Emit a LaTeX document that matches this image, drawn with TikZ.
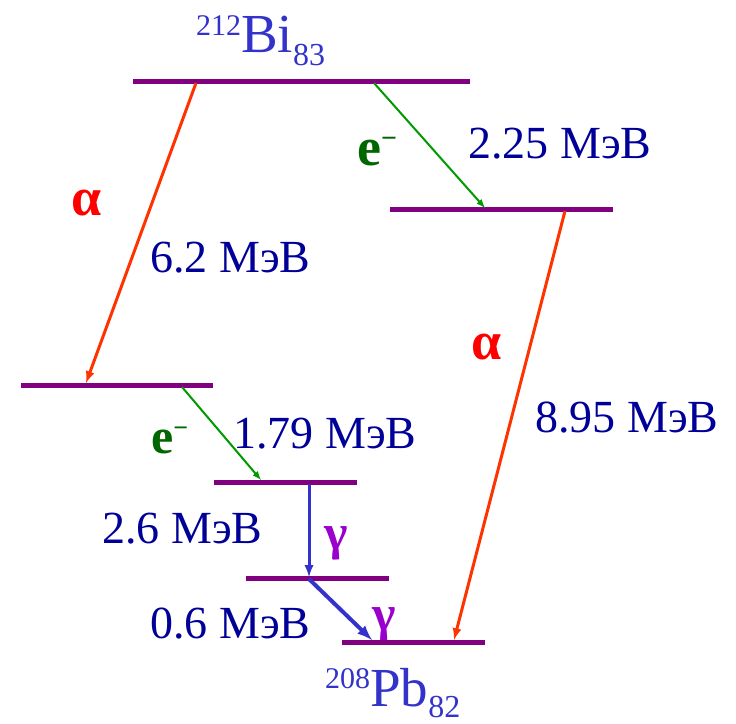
\documentclass[tikz,border=0pt]{standalone}
\usepackage{fontspec}
\setmainfont{Liberation Serif}
\definecolor{lvl}{HTML}{800080}
\definecolor{alphaar}{HTML}{FF3300}
\definecolor{alphatx}{HTML}{FF0000}
\definecolor{ear}{HTML}{009900}
\definecolor{etx}{HTML}{006600}
\definecolor{gar}{HTML}{3333CC}
\definecolor{gtx}{HTML}{9900CC}
\definecolor{mev}{HTML}{000099}
\definecolor{nuc}{HTML}{3333CC}
\newcommand\bigtx{\fontsize{46}{46}\selectfont}
\begin{document}
\begin{tikzpicture}[x=1pt,y=-1pt,
  lvline/.style={line width=5pt,lvl},
  alphaarrow/.style={line width=3pt,alphaar,-latex},
  earrow/.style={line width=2pt,ear,-latex},
  garrow/.style={line width=3pt,gar,-latex},
  mevlabel/.style={inner sep=0pt,anchor=base west,text=mev},
  nuclabel/.style={inner sep=0pt,anchor=base west,text=nuc},
  alphalabel/.style={inner sep=0pt,anchor=base,text=alphatx},
  elabel/.style={inner sep=0pt,anchor=base west,text=etx},
  glabel/.style={inner sep=0pt,anchor=base west,text=gtx}]
\useasboundingbox (0,0) rectangle (736,723);
% energies
\node[mevlabel] (t225) at (468,158) {\bigtx 2.25 МэВ};
\node[mevlabel] (t62) at (150,272) {\bigtx 6.2 МэВ};
\node[mevlabel] (t895) at (535,432) {\bigtx 8.95 МэВ};
\node[mevlabel] (t179) at (233,448) {\bigtx 1.79 МэВ};
\node[mevlabel] (t26) at (102,543) {\bigtx 2.6 МэВ};
\node[mevlabel] (t06) at (150,638) {\bigtx 0.6 МэВ};
% nuclide labels
\node[nuclabel] (bi) at (196,52) {\bigtx\raisebox{17pt}{\scalebox{0.652}{212}}\scalebox{1.196}{Bi}\raisebox{-13pt}{\scalebox{0.696}{83}}};
\node[nuclabel] (pb) at (325,706) {\bigtx\raisebox{18pt}{\scalebox{0.652}{208}}\scalebox{1.196}{Pb}\raisebox{-11pt}{\scalebox{0.696}{82}}};
% particle labels
\node[alphalabel] (al1) at (87,215) {\bigtx\bfseries\scalebox{1.174}{α}};
\node[alphalabel] (al2) at (487,359) {\bigtx\bfseries\scalebox{1.174}{α}};
\node[elabel] (el1) at (357,165) {\bigtx\bfseries\scalebox{1.174}{e}\raisebox{18pt}{\scalebox{0.609}{−}}};
\node[elabel] (el2) at (151,453) {\bigtx\bfseries\scalebox{1.087}{e}\raisebox{17pt}{\scalebox{0.565}{−}}};
\node[glabel] (ga1) at (324,549) {\bigtx\bfseries\scalebox{1.087}{γ}};
\node[glabel] (ga2) at (372,630) {\bigtx\bfseries\scalebox{1.087}{γ}};
% levels
\coordinate (bi1) at (133,81);  \coordinate (bi2) at (470,81);
\coordinate (r1) at (390,209);  \coordinate (r2) at (613,209);
\coordinate (l1) at (21,385);   \coordinate (l2) at (213,385);
\coordinate (m1) at (214,482);  \coordinate (m2) at (357,482);
\coordinate (lo1) at (246,578); \coordinate (lo2) at (389,578);
\coordinate (pb1) at (342,642); \coordinate (pb2) at (485,642);
\draw[lvline] (bi1) -- (bi2);
\draw[lvline] (r1) -- (r2);
\draw[lvline] (l1) -- (l2);
\draw[lvline] (m1) -- (m2);
\draw[lvline] (lo1) -- (lo2);
\draw[lvline] (pb1) -- (pb2);
% arrow end points
\coordinate (a1s) at (196,83);  \coordinate (a1e) at (86,383);
\coordinate (e1s) at (374,83);  \coordinate (e1e) at (485,208);
\coordinate (a2s) at (565,211); \coordinate (a2e) at (454,640);
\coordinate (e2s) at (182,387); \coordinate (e2e) at (261,480);
\coordinate (g1s) at (309,484); \coordinate (g1e) at (309,577);
\coordinate (g2s) at (309,579); \coordinate (g2e) at (372,640);
\draw[alphaarrow] (a1s) -- (a1e);
\draw[alphaarrow] (a2s) -- (a2e);
\draw[earrow] (e1s) -- (e1e);
\draw[earrow] (e2s) -- (e2e);
\draw[garrow] (g1s) -- (g1e);
\draw[garrow,line width=4pt] (g2s) -- (g2e);
\end{tikzpicture}
\end{document}
